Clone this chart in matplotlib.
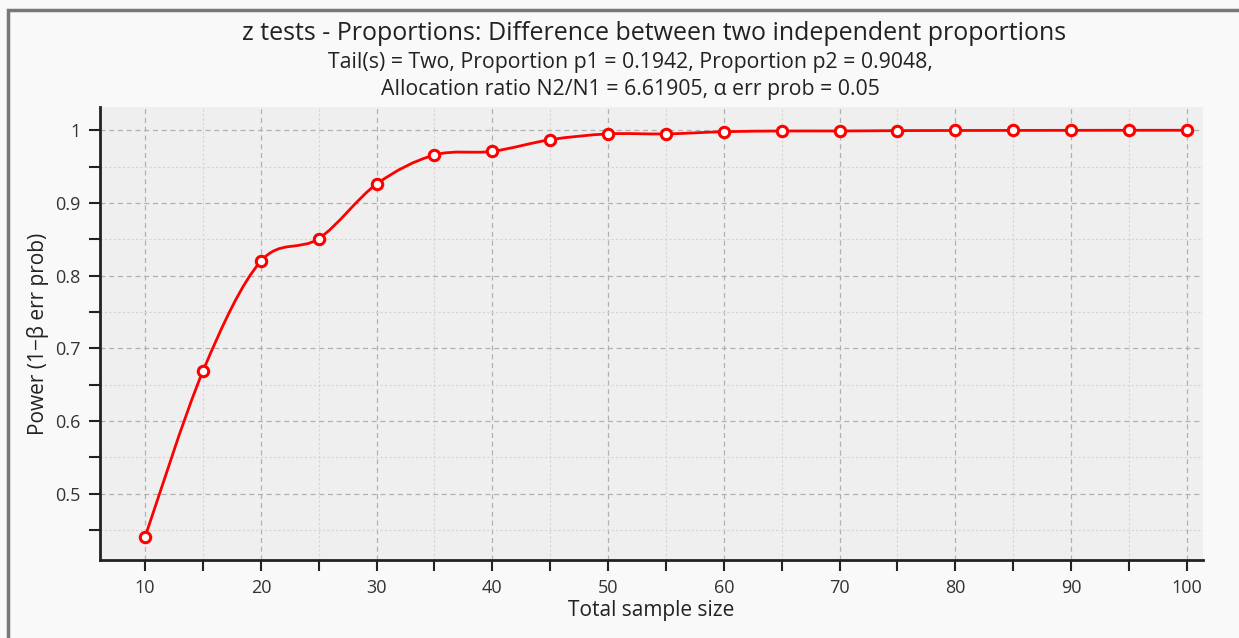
import numpy as np
import matplotlib
matplotlib.use("Agg")
import matplotlib.pyplot as plt
from matplotlib.path import Path
from matplotlib.patches import PathPatch, Rectangle
from matplotlib.ticker import MultipleLocator

# data
sample_size = [10, 15, 20, 25, 30, 35, 40, 45, 50, 55, 60, 65, 70, 75, 80, 85, 90, 95, 100]
power = [0.441, 0.669, 0.820, 0.851, 0.926, 0.966, 0.971, 0.987, 0.995, 0.995, 0.998,
         0.999, 0.999, 0.9995, 0.9997, 0.9998, 0.9999, 1.0, 1.0]

title = "z tests - Proportions: Difference between two independent proportions"
subtitle = ("Tail(s) = Two, Proportion p1 = 0.1942, Proportion p2 = 0.9048,\n"
            "Allocation ratio N2/N1 = 6.61905, \u03b1 err prob = 0.05")

plt.rcParams['font.family'] = ['Open Sans', 'DejaVu Sans']

fig = plt.figure(figsize=(12.39, 6.38), dpi=100, facecolor='#f9f9f9')
ax = fig.add_axes([100 / 1239, 1 - 560 / 638, 1103 / 1239, 453 / 638])
ax.set_facecolor('#efefef')

# outer frame of the window
fig.patches.append(Rectangle((8 / 1239, -0.01), 1.0, 1 - 10 / 638 + 0.01, transform=fig.transFigure,
                             fill=False, edgecolor='#777777', linewidth=2.5))

# smooth curve through the points (Catmull-Rom as cubic Bezier)
x = np.array(sample_size, float)
y = np.array(power, float)
verts = [(x[0], y[0])]
codes = [Path.MOVETO]
for i in range(len(x) - 1):
    p0 = (x[i - 1], y[i - 1]) if i > 0 else (x[i], y[i])
    p1 = (x[i], y[i])
    p2 = (x[i + 1], y[i + 1])
    p3 = (x[i + 2], y[i + 2]) if i + 2 < len(x) else p2
    c1 = (p1[0] + (p2[0] - p0[0]) / 6, p1[1] + (p2[1] - p0[1]) / 6)
    c2 = (p2[0] - (p3[0] - p1[0]) / 6, p2[1] - (p3[1] - p1[1]) / 6)
    verts += [c1, c2, p2]
    codes += [Path.CURVE4] * 3
ax.add_patch(PathPatch(Path(verts, codes), facecolor='none', edgecolor='red', linewidth=2, zorder=3))
ax.plot(sample_size, power, linestyle='none', marker='o', markersize=7.5, markerfacecolor='white',
        markeredgecolor='red', markeredgewidth=2.2, zorder=4)

ax.set_xlim(6.1, 101.4)
ax.set_ylim(0.409, 1.032)
ax.xaxis.set_minor_locator(MultipleLocator(5))
ax.yaxis.set_minor_locator(MultipleLocator(0.05))
ax.set_yticks(np.arange(0.5, 1.01, 0.1))
ax.set_yticklabels(['0.5', '0.6', '0.7', '0.8', '0.9', '1'])
ax.set_xticks(np.arange(10, 101, 10))

ax.grid(which='major', color='#b0b0b0', linestyle=(0, (4, 3)), linewidth=0.9)
ax.grid(which='minor', color='#d4d4d4', linestyle=(0, (2, 2)), linewidth=0.8)
ax.set_axisbelow(True)

for s in ['top', 'right']:
    ax.spines[s].set_visible(False)
for s in ['left', 'bottom']:
    ax.spines[s].set_linewidth(2)
    ax.spines[s].set_color('#222222')

ax.tick_params(which='major', direction='out', length=8, width=1.5, color='#222222',
               labelsize=13, labelcolor='#333333', pad=6)
ax.tick_params(which='minor', direction='out', length=8, width=1.5, color='#222222')

ax.set_xlabel("Total sample size", fontsize=15, color='#222222', labelpad=2)
ax.set_ylabel("Power (1\u2212\u03b2 err prob)", fontsize=15, color='#222222', labelpad=4)

fig.text(654 / 1239, 1 - 34 / 638, title, ha='center', va='center',
         fontsize=18, color='#222222')
fig.text(630 / 1239, 1 - 76 / 638, subtitle, ha='center', va='center',
         fontsize=15.3, color='#222222', linespacing=1.4)

fig.savefig("out.png", dpi=100, facecolor=fig.get_facecolor())
